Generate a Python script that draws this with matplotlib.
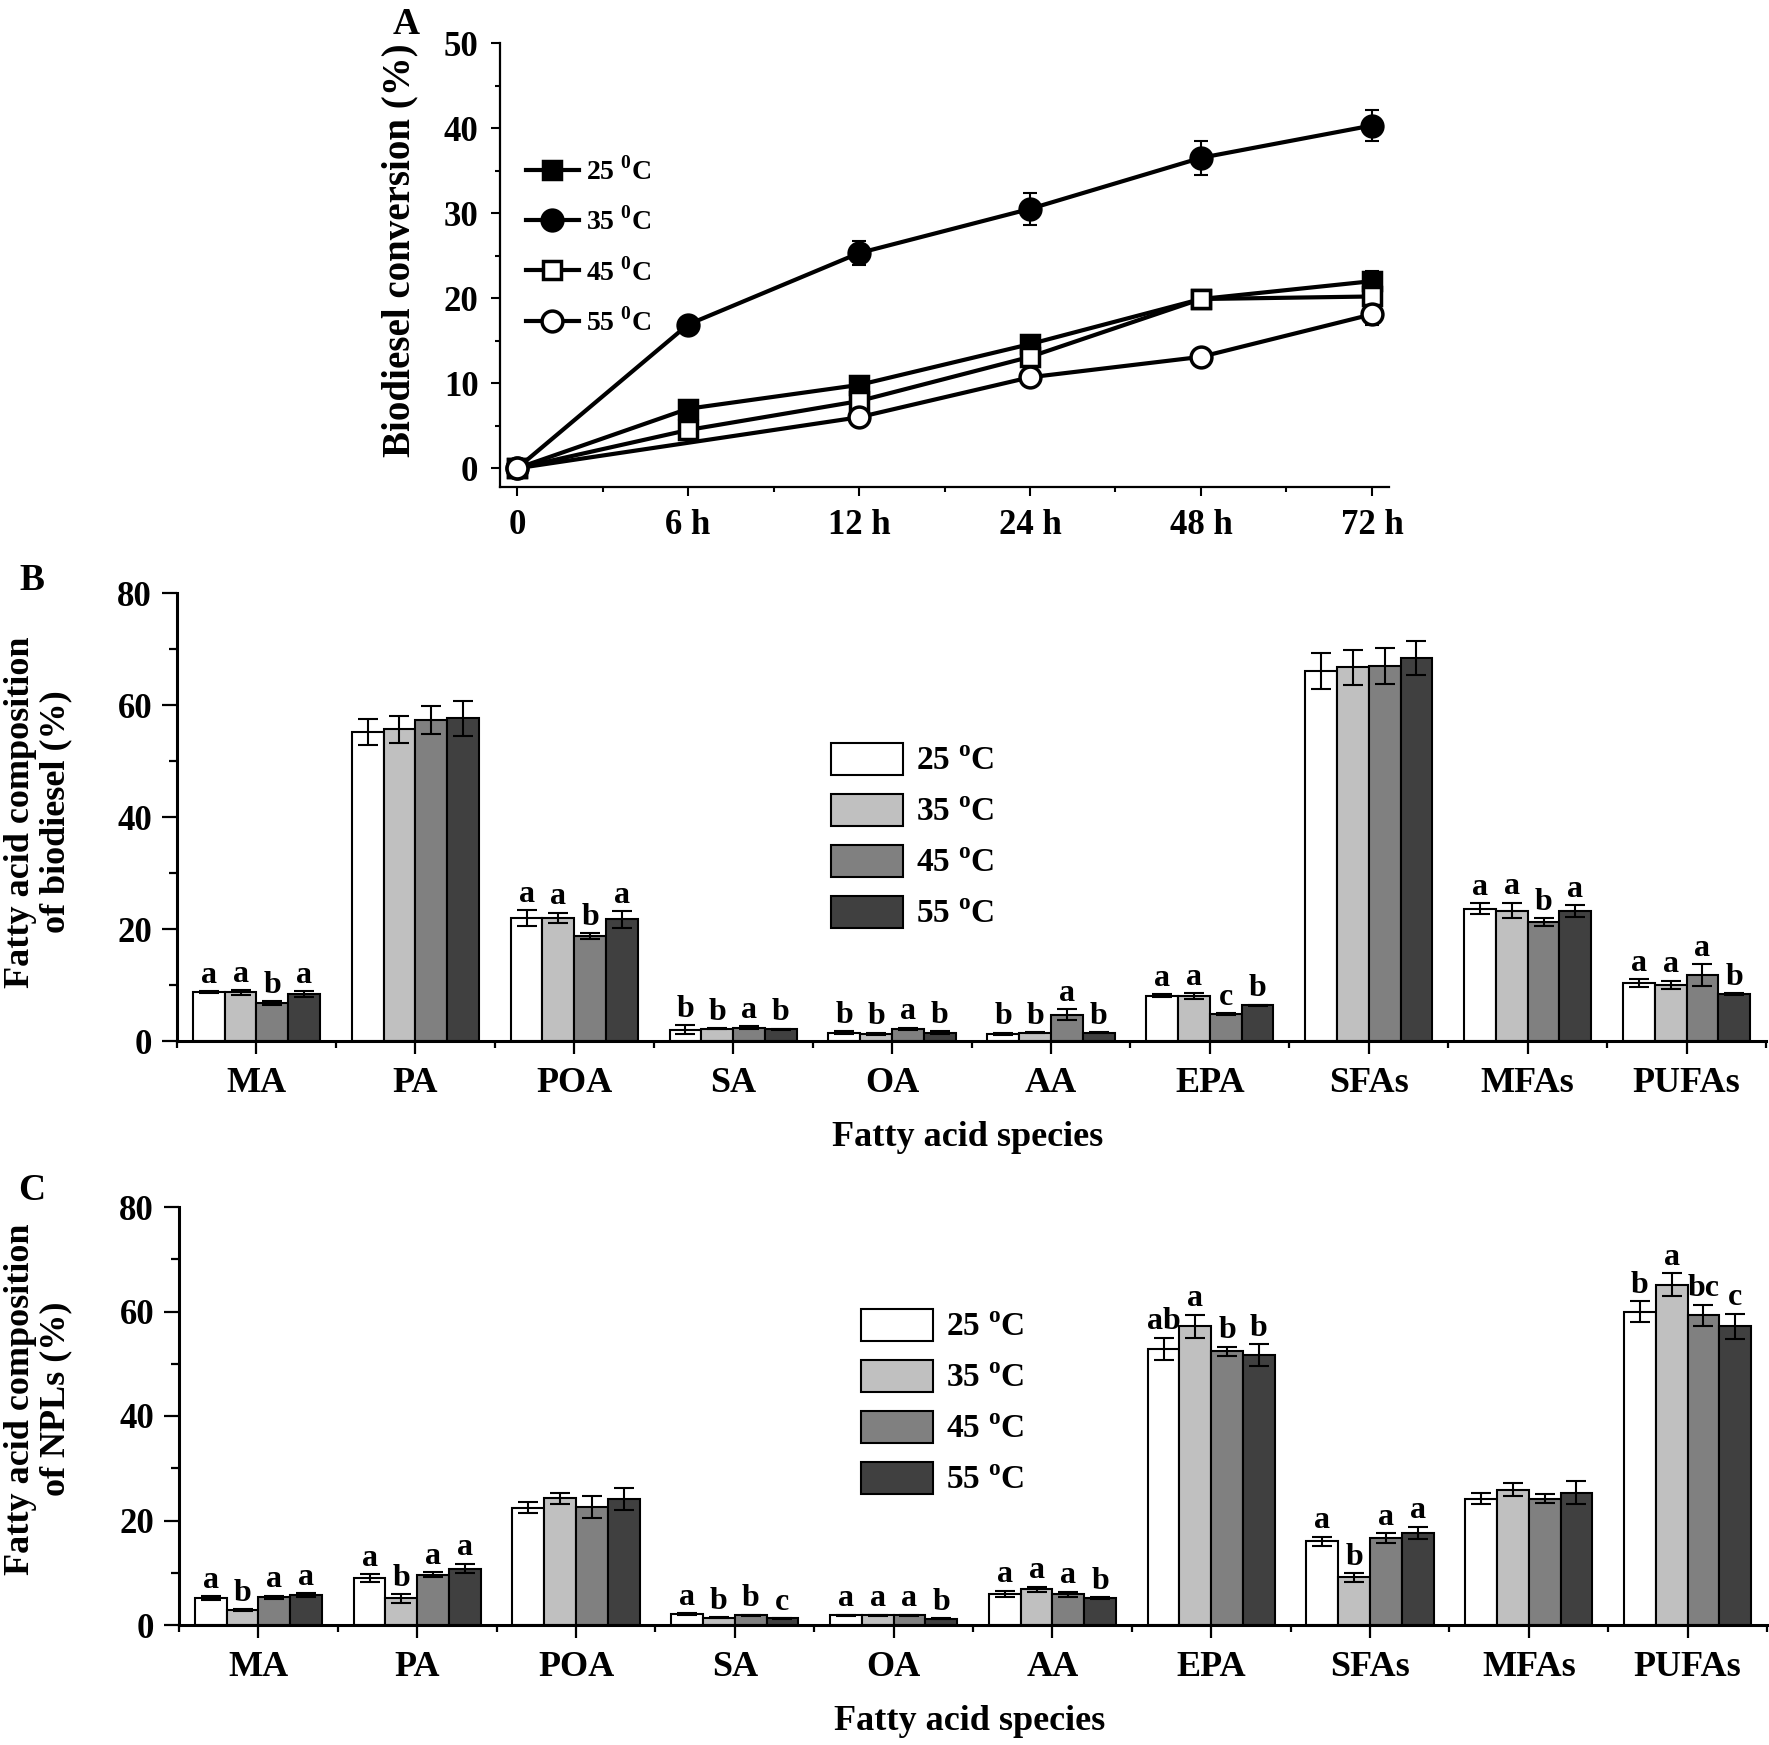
import matplotlib
matplotlib.use('Agg')
import matplotlib.pyplot as plt
from matplotlib.lines import Line2D
import numpy as np
from matplotlib.ticker import MultipleLocator

plt.rcParams['font.family'] = ['Liberation Serif', 'DejaVu Serif']
plt.rcParams['font.weight'] = 'bold'
plt.rcParams['mathtext.fontset'] = 'custom'
plt.rcParams['mathtext.rm'] = 'Liberation Serif:bold'
plt.rcParams['mathtext.bf'] = 'Liberation Serif:bold'

# ---- panel A: biodiesel conversion over time ----
times = ['0', '6 h', '12 h', '24 h', '48 h', '72 h']
conv_25 = [0, 7.0, 9.8, 14.6, 19.9, 22.0]
err_25 = [0.3, 0.4, 0.4, 0.5, 0.6, 1.15]
conv_35 = [0, 16.9, 25.3, 30.5, 36.5, 40.3]
err_35 = [0.3, 0.6, 1.4, 1.9, 2.0, 1.8]
conv_45 = [0, 4.5, 7.9, 13.1, 19.9, 20.2]
err_45 = [0.3, 0.8, 0.6, 1.0, 0.8, 0.8]
conv_55 = [0, np.nan, 6.0, 10.7, 13.1, 18.1]
err_55 = [0.3, np.nan, 0.6, 0.7, 0.8, 1.3]

# ---- panels B and C: fatty acid composition ----
species = ['MA', 'PA', 'POA', 'SA', 'OA', 'AA', 'EPA', 'SFAs', 'MFAs', 'PUFAs']
temps = ['25', '35', '45', '55']

bio_25 = [8.7, 55.2, 22.0, 2.0, 1.5, 1.3, 8.1, 66.0, 23.6, 10.3]
bio_35 = [8.7, 55.7, 22.0, 2.2, 1.3, 1.5, 8.0, 66.7, 23.3, 10.0]
bio_45 = [6.8, 57.4, 18.8, 2.4, 2.2, 4.7, 4.8, 67.0, 21.2, 11.8]
bio_55 = [8.4, 57.6, 21.7, 2.1, 1.5, 1.5, 6.4, 68.4, 23.2, 8.4]
bio_e25 = [0.2, 2.3, 1.4, 0.8, 0.3, 0.2, 0.3, 3.2, 1.0, 0.7]
bio_e35 = [0.4, 2.4, 0.9, 0.1, 0.15, 0.1, 0.5, 3.1, 1.4, 0.8]
bio_e45 = [0.3, 2.5, 0.5, 0.2, 0.15, 1.0, 0.2, 3.2, 0.75, 1.9]
bio_e55 = [0.5, 3.1, 1.5, 0.1, 0.3, 0.1, 0.1, 3.1, 1.1, 0.1]
bio_let = [['a', 'a', 'b', 'a'], None, ['a', 'a', 'b', 'a'], ['b', 'b', 'a', 'b'],
           ['b', 'b', 'a', 'b'], ['b', 'b', 'a', 'b'], ['a', 'a', 'c', 'b'], None,
           ['a', 'a', 'b', 'a'], ['a', 'a', 'a', 'b']]

npl_25 = [5.1, 9.0, 22.4, 2.1, 1.9, 6.0, 52.9, 16.0, 24.2, 60.0]
npl_35 = [2.8, 5.1, 24.3, 1.4, 1.9, 6.8, 57.2, 9.1, 25.9, 65.1]
npl_45 = [5.3, 9.6, 22.6, 1.9, 1.9, 5.9, 52.4, 16.6, 24.2, 59.3]
npl_55 = [5.7, 10.8, 24.2, 1.25, 1.2, 5.1, 51.6, 17.6, 25.3, 57.2]
npl_e25 = [0.4, 0.75, 1.05, 0.2, 0.1, 0.6, 2.1, 0.9, 1.0, 2.0]
npl_e35 = [0.2, 0.8, 1.05, 0.1, 0.1, 0.5, 2.2, 0.8, 1.3, 2.2]
npl_e45 = [0.3, 0.5, 2.05, 0.1, 0.1, 0.5, 0.9, 1.0, 0.9, 2.0]
npl_e55 = [0.4, 0.9, 2.1, 0.1, 0.1, 0.2, 2.1, 1.2, 2.2, 2.4]
npl_let = [['a', 'b', 'a', 'a'], ['a', 'b', 'a', 'a'], None, ['a', 'b', 'b', 'c'],
           ['a', 'a', 'a', 'b'], ['a', 'a', 'a', 'b'], ['ab', 'a', 'b', 'b'],
           ['a', 'b', 'a', 'a'], None, ['b', 'a', 'bc', 'c']]

bar_colors = ['#ffffff', '#c0c0c0', '#808080', '#404040']

W, H = 1769, 1745
fig = plt.figure(figsize=(W / 100, H / 100), dpi=100)


def box(l, t, r, b):
    return [l / W, 1 - b / H, (r - l) / W, (b - t) / H]


def px(x, y):
    return x / W, 1 - y / H


# ---------- A ----------
axA = fig.add_axes(box(500, 43, 1389, 487))
x = np.arange(len(times))
series = [(conv_25, err_25, 's', 'black', 13), (conv_35, err_35, 'o', 'black', 15),
          (conv_45, err_45, 's', 'white', 13), (conv_55, err_55, 'o', 'white', 15)]
handles = []
for (vals, errs, m, fc, ms), t in zip(series, temps):
    v = np.array(vals, dtype=float)
    e = np.array(errs, dtype=float)
    ok = ~np.isnan(v)
    axA.errorbar(x[ok], v[ok], yerr=e[ok], fmt='none', ecolor='black',
                 capsize=5, elinewidth=1.5, capthick=1.5, zorder=2)
    ln, = axA.plot(x[ok], v[ok], color='black', lw=3, marker=m, ms=ms,
                   mfc=fc, mec='black', mew=2.5, zorder=3,
                   label=t + r' $^{\mathrm{0}}$C')
    handles.append(ln)
axA.set_xlim(-0.1, 5.1)
axA.set_ylim(-2.2, 50)
axA.set_xticks(x)
axA.set_xticklabels(times)
axA.xaxis.set_minor_locator(MultipleLocator(0.5))
axA.yaxis.set_major_locator(MultipleLocator(10))
axA.yaxis.set_minor_locator(MultipleLocator(5))
for s in ['top', 'right']:
    axA.spines[s].set_visible(False)
for s in ['left', 'bottom']:
    axA.spines[s].set_linewidth(1.6)
axA.tick_params(which='major', length=6.5, width=1.5, labelsize=25, pad=9)
axA.tick_params(which='minor', length=3.3, width=1.5)
axA.legend(handles=handles, loc='upper left', bbox_to_anchor=px(526, 157),
           bbox_transform=fig.transFigure, frameon=False, fontsize=20,
           handlelength=1.9, handletextpad=0.25, labelspacing=0.78,
           borderpad=0, borderaxespad=0)
fig.text(*px(400, 250), 'Biodiesel conversion (%)', rotation=90, fontsize=28,
         ha='center', va='center')
fig.text(*px(406, 25), 'A', fontsize=27, ha='center', va='center')


# ---------- B and C ----------
def bar_panel(ax, vals, errs, letters):
    xs = np.arange(len(species))
    w = 0.2
    for i, (v, e, c, t) in enumerate(zip(vals, errs, bar_colors, temps)):
        pos = xs + (i - 1.5) * w
        ax.bar(pos, v, w, yerr=e, color=c, edgecolor='black', linewidth=1.5,
               capsize=7, error_kw=dict(elinewidth=1.5, capthick=1.5, ecolor='black'),
               label=t + r' $^{\mathrm{o}}$C')
        for j in range(len(species)):
            if letters[j] is None:
                continue
            ax.annotate(letters[j][i], (pos[j], v[j] + e[j]), xytext=(0, 1),
                        textcoords='offset points', ha='center', va='bottom', fontsize=23)
    ax.set_xlim(-0.5, 9.5)
    ax.set_ylim(0, 80)
    ax.set_xticks(xs)
    ax.set_xticklabels(species, fontsize=26)
    ax.xaxis.set_minor_locator(MultipleLocator(1, offset=0.5))
    ax.yaxis.set_major_locator(MultipleLocator(20))
    ax.yaxis.set_minor_locator(MultipleLocator(10))
    for s in ['top', 'right']:
        ax.spines[s].set_visible(False)
    for s in ['left', 'bottom']:
        ax.spines[s].set_linewidth(2.2)
    ax.tick_params(axis='y', which='major', length=11, width=1.6, labelsize=25, pad=7)
    ax.tick_params(axis='y', which='minor', length=6, width=1.6)
    ax.tick_params(axis='x', which='major', length=9.5, width=1.6, pad=9)
    ax.tick_params(axis='x', which='minor', length=5, width=1.6)


leg_kw = dict(bbox_transform=fig.transFigure, loc='upper left', frameon=False, fontsize=24,
              handlelength=2.15, handleheight=1.1, handletextpad=0.4, labelspacing=0.5,
              borderpad=0, borderaxespad=0)

axB = fig.add_axes(box(177, 593, 1766, 1041))
bar_panel(axB, [bio_25, bio_35, bio_45, bio_55], [bio_e25, bio_e35, bio_e45, bio_e55], bio_let)
axB.legend(bbox_to_anchor=px(831, 743), **leg_kw)
fig.text(*px(38, 812), 'Fatty acid composition\nof biodiesel (%)', rotation=90,
         fontsize=26, ha='center', va='center', linespacing=1.1)
fig.text(*px(968, 1137), 'Fatty acid species', fontsize=26, ha='center', va='center')
fig.text(*px(32, 581), 'B', fontsize=27, ha='center', va='center')

axC = fig.add_axes(box(179, 1207, 1767, 1625))
bar_panel(axC, [npl_25, npl_35, npl_45, npl_55], [npl_e25, npl_e35, npl_e45, npl_e55], npl_let)
axC.legend(bbox_to_anchor=px(861, 1309), **leg_kw)
fig.text(*px(38, 1399), 'Fatty acid composition\nof NPLs (%)', rotation=90,
         fontsize=26, ha='center', va='center', linespacing=1.1)
fig.text(*px(970, 1722), 'Fatty acid species', fontsize=26, ha='center', va='center')
fig.text(*px(32, 1190), 'C', fontsize=27, ha='center', va='center')

fig.savefig('out.png', dpi=100)
